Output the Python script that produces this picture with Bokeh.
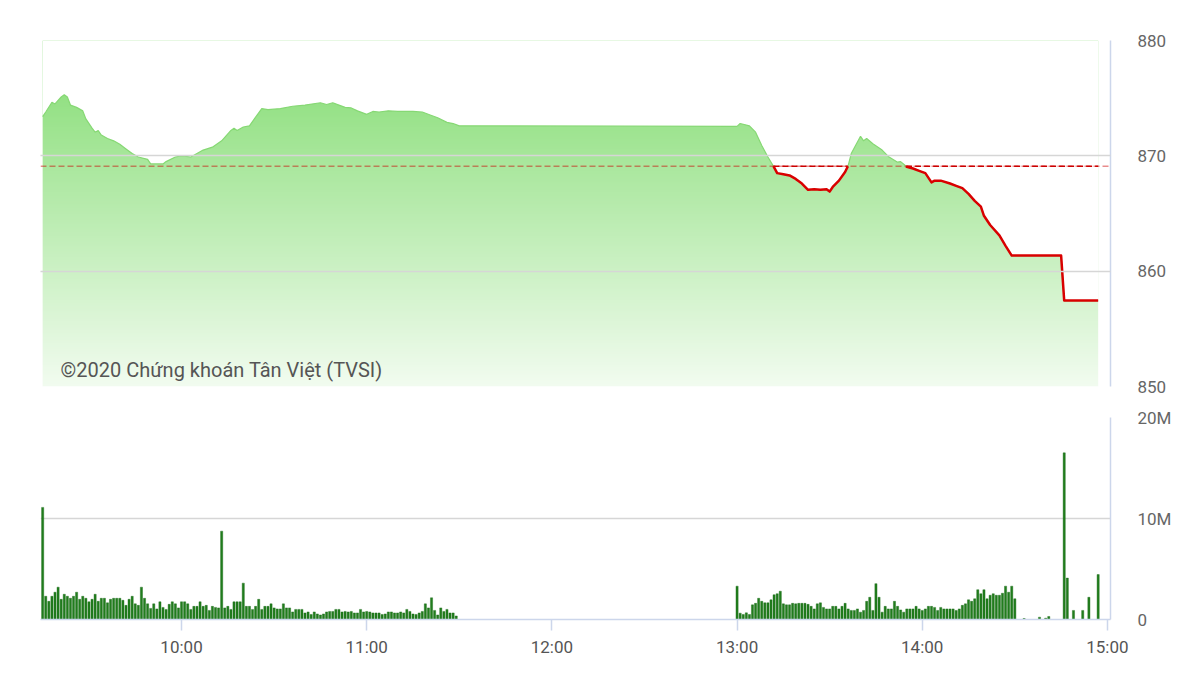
import numpy as np
from bokeh.plotting import figure
from bokeh.layouts import column
from bokeh.models import Range1d, FixedTicker
from bokeh.core.properties import value
from bokeh.embed import file_html
from bokeh.resources import INLINE

# ---------------- data ----------------
price_time = ["09:15", "09:16", "09:18", "09:19", "09:21", "09:22", "09:23", "09:24", "09:26", "09:28",
              "09:29", "09:31", "09:32", "09:33", "09:34", "09:36", "09:38", "09:40", "09:42", "09:44",
              "09:46", "09:49", "09:50", "09:54", "09:55", "09:58", "10:00", "10:03", "10:05", "10:07",
              "10:10", "10:13", "10:16", "10:17", "10:18", "10:20", "10:22", "10:24", "10:26", "10:28",
              "10:32", "10:36", "10:40", "10:45", "10:47", "10:49", "10:51", "10:53", "10:55", "10:57",
              "11:00", "11:02", "11:04", "11:07", "11:10", "11:15", "11:18", "11:21", "11:23", "11:26",
              "11:28", "11:30", "13:00", "13:01", "13:04", "13:06", "13:08", "13:10", "13:12", "13:13",
              "13:15", "13:17", "13:19", "13:21", "13:23", "13:25", "13:27", "13:29", "13:30", "13:31",
              "13:33", "13:35", "13:36", "13:37", "13:40", "13:41", "13:42", "13:44", "13:47", "13:49",
              "13:52", "13:53", "13:55", "13:57", "13:59", "14:01", "14:03", "14:04", "14:06", "14:09",
              "14:11", "14:13", "14:15", "14:17", "14:19", "14:20", "14:22", "14:25", "14:27", "14:29",
              "14:45", "14:46", "14:57"]
price_value = [873.4, 873.8, 874.65, 874.5, 875.1, 875.3, 875.1, 874.4, 874.2, 873.9,
               873.2, 872.4, 872.05, 872.2, 871.8, 871.5, 871.3, 871.0, 870.6, 870.2,
               869.9, 869.7, 869.3, 869.3, 869.5, 869.9, 870.0, 869.9, 870.2, 870.5,
               870.75, 871.3, 872.2, 872.4, 872.2, 872.5, 872.6, 873.35, 874.1, 874.0,
               874.1, 874.3, 874.4, 874.6, 874.45, 874.6, 874.4, 874.2, 874.15, 873.9,
               873.6, 873.85, 873.8, 873.9, 873.85, 873.85, 873.8, 873.5, 873.3, 872.9,
               872.8, 872.6, 872.55, 872.8, 872.6, 872.05, 870.9, 869.9, 869.0, 868.5,
               868.4, 868.3, 868.0, 867.6, 867.05, 867.1, 867.05, 867.1, 866.9, 867.3,
               867.85, 868.6, 869.15, 870.2, 871.7, 871.3, 871.5, 871.05, 870.5, 869.95,
               869.45, 869.5, 869.05, 868.9, 868.7, 868.5, 867.7, 867.85, 867.85, 867.6,
               867.4, 867.2, 866.7, 866.1, 865.6, 864.8, 864.0, 863.1, 862.2, 861.35,
               861.35, 857.45, 857.45]
ref_price = 869.1

# volume in millions, one bar per minute
vol_am_start = "09:15"
vol_am = [11.1, 2.3, 1.8, 2.3, 2.7, 3.2, 2.0, 2.5, 2.3, 2.1, 2.3, 2.7, 2.0, 2.3, 2.1, 1.75, 2.0, 2.5, 1.8, 2.1,
          2.1, 1.65, 2.0, 2.1, 2.1, 2.1, 1.9, 1.4, 2.0, 2.3, 1.55, 1.4, 3.2, 2.1, 1.55, 1.1, 1.55, 1.05, 1.75, 1.2,
          1.0, 1.5, 1.75, 1.55, 1.15, 1.75, 1.75, 1.55, 1.0, 1.3, 1.3, 1.75, 1.3, 1.4, 0.9, 1.3, 1.2, 1.15, 8.75, 1.15,
          1.3, 1.0, 1.75, 1.75, 1.75, 3.6, 1.3, 1.3, 1.0, 1.3, 2.0, 1.0, 1.3, 1.3, 1.55, 1.15, 1.05, 1.05, 1.55, 1.15,
          1.15, 0.75, 1.0, 1.0, 1.0, 0.65, 0.75, 0.5, 0.75, 0.55, 0.45, 0.55, 0.75, 0.8, 0.8, 1.0, 1.0, 0.75, 0.8, 0.75,
          0.8, 0.65, 0.65, 1.0, 0.75, 0.8, 0.75, 0.65, 0.65, 0.65, 0.5, 0.55, 0.75, 0.75, 0.65, 0.65, 0.75, 0.65, 1.0, 0.8,
          0.55, 0.5, 0.65, 0.8, 1.55, 1.15, 2.15, 0.9, 0.45, 1.15, 0.8, 1.0, 0.65, 0.65, 0.35]
vol_pm_start = "13:00"
vol_pm = [3.3, 0.63, 0.5, 0.66, 0.5, 1.45, 1.6, 2.1, 1.8, 1.65, 1.65, 1.95, 2.45, 2.55, 2.8, 1.55, 1.45, 1.45, 1.6, 1.55,
          1.6, 1.6, 1.6, 1.5, 1.3, 1.05, 1.55, 1.65, 1.2, 1.05, 1.05, 1.3, 1.3, 1.05, 1.3, 1.6, 1.05, 0.9, 0.9, 1.05,
          0.73, 0.9, 1.8, 2.2, 0.9, 3.55, 2.2, 0.73, 1.3, 1.05, 1.05, 1.8, 1.3, 0.95, 0.73, 1.05, 1.05, 1.05, 1.3, 1.05,
          0.9, 1.05, 1.3, 1.3, 1.2, 0.9, 1.2, 1.05, 1.05, 1.05, 1.05, 0.9, 1.05, 1.4, 1.55, 1.95, 1.8, 2.05, 2.95, 2.55,
          2.95, 2.05, 2.4, 2.55, 2.4, 2.4, 2.6, 3.3, 2.7, 3.3, 2.05]
vol_late_time = ["14:33", "14:38", "14:40", "14:41", "14:46", "14:47", "14:49", "14:52", "14:54", "14:57"]
vol_late = [0.1, 0.23, 0.13, 0.3, 16.5, 4.1, 0.9, 0.9, 2.2, 4.45]

x_ticks = [10, 11, 12, 13, 14, 15]
x_tick_labels = ["10:00", "11:00", "12:00", "13:00", "14:00", "15:00"]
price_ticks = [850, 860, 870, 880]
vol_ticks = [0, 10_000_000, 20_000_000]
vol_tick_labels = ["0", "10M", "20M"]
watermark = "©2020 Chứng khoán Tân Việt (TVSI)"


def hours(s):
    h, m = s.split(":")
    return int(h) + int(m) / 60.0


t = np.array([hours(s) for s in price_time])
pv = np.array(price_value)

vol_t = ([hours(vol_am_start) + i / 60.0 for i in range(len(vol_am))]
         + [hours(vol_pm_start) + i / 60.0 for i in range(len(vol_pm))]
         + [hours(s) for s in vol_late_time])
vol_v = [v * 1e6 for v in vol_am + vol_pm + vol_late]

# red segment (price below reference), with crossing points
rx, ry = [], []
for i in range(len(t)):
    if i > 0 and (pv[i - 1] - ref_price) * (pv[i] - ref_price) < 0:
        f = (ref_price - pv[i - 1]) / (pv[i] - pv[i - 1])
        rx.append(t[i - 1] + f * (t[i] - t[i - 1]))
        ry.append(ref_price)
        if pv[i] > ref_price:
            rx.append(np.nan)
            ry.append(np.nan)
    if pv[i] <= ref_price:
        rx.append(t[i])
        ry.append(pv[i])
rx = np.array(rx)
ry = np.array(ry)
dash_y = np.where(np.isnan(ry), np.nan, ref_price)

X0, X1 = 9 + 14.3 / 60, 15 + 1 / 60
FONT = "Roboto"
AXIS_COL = "#ccd6eb"
GRID_COL = "#d6d6d6"

# ---------------- price panel ----------------
p = figure(frame_width=1070, frame_height=346, min_border_left=40, min_border_right=82,
           min_border_top=40, min_border_bottom=15, x_range=Range1d(X0, X1),
           y_range=Range1d(850, 880), x_axis_location=None, y_axis_location="right",
           output_backend="svg", toolbar_location=None, background_fill_color="white",
           border_fill_color="white", outline_line_color=None)

# gradient fill: image below, white mask above the price line
N = 300
frac = np.linspace(0, 1, N)[:, None]
top_c = np.array([130, 220, 112])
bot_c = np.array([242, 252, 240])
cols = bot_c + (top_c - bot_c) * frac
img = np.zeros((N, 8), dtype=np.uint32)
view = img.view(dtype=np.uint8).reshape((N, 8, 4))
view[:, :, 0] = cols[:, 0:1]
view[:, :, 1] = cols[:, 1:2]
view[:, :, 2] = cols[:, 2:3]
view[:, :, 3] = 255
p.image_rgba(image=[img], x=t[0], y=850, dw=t[-1] - t[0], dh=30)
p.varea(x=t, y1=pv, y2=880, fill_color="white")

p.line(t, pv, line_color="#86d874", line_width=1.2)
p.line([X0, X1], [ref_price, ref_price], line_color="#cc0000", line_width=1.5,
       line_dash="6 3", line_alpha=0.45)
p.line(rx, dash_y, line_color="#cc0000", line_width=1.5, line_dash="6 3")
p.line(rx, ry, line_color="#d90000", line_width=2.5, line_join="round")

p.text(x=[9 + 20.8 / 60], y=[851.4], text=[watermark], text_font=value(FONT),
       text_font_size="20px", text_color="#555555", text_baseline="middle", text_align="left")

p.xgrid.visible = False
p.ygrid.ticker = FixedTicker(ticks=price_ticks)
p.ygrid.grid_line_color = GRID_COL
p.ygrid.grid_line_width = 1.5
p.ygrid.level = "guide"
ya = p.yaxis[0]
ya.ticker = FixedTicker(ticks=price_ticks)
ya.axis_line_color = AXIS_COL
ya.axis_line_width = 1.5
ya.major_tick_line_color = None
ya.minor_tick_line_color = None
ya.major_tick_out = 0
ya.major_tick_in = 0
ya.major_label_standoff = 27
ya.major_label_text_font = FONT
ya.major_label_text_font_size = "17px"
ya.major_label_text_color = "#666666"

# ---------------- volume panel ----------------
q = figure(frame_width=1070, frame_height=202, min_border_left=40, min_border_right=82,
           min_border_top=16, min_border_bottom=45, x_range=p.x_range,
           y_range=Range1d(0, 20_000_000), y_axis_location="right",
           output_backend="svg", toolbar_location=None, background_fill_color="white",
           border_fill_color="white", outline_line_color=None)
q.vbar(x=vol_t, top=vol_v, bottom=0, width=0.7 / 60, fill_color="#217d1d",
       line_color="#1a6b17", line_width=0.4)

q.xgrid.visible = False
q.ygrid.ticker = FixedTicker(ticks=vol_ticks)
q.ygrid.grid_line_color = GRID_COL
q.ygrid.grid_line_width = 1.5
yb = q.yaxis[0]
yb.ticker = FixedTicker(ticks=vol_ticks)
yb.major_label_overrides = dict(zip(vol_ticks, vol_tick_labels))
yb.axis_line_color = AXIS_COL
yb.axis_line_width = 1.5
yb.major_tick_line_color = None
yb.minor_tick_line_color = None
yb.major_tick_out = 0
yb.major_tick_in = 0
yb.major_label_standoff = 27
yb.major_label_text_font = FONT
yb.major_label_text_font_size = "17px"
yb.major_label_text_color = "#666666"

xb = q.xaxis[0]
xb.ticker = FixedTicker(ticks=x_ticks)
xb.major_label_overrides = dict(zip(x_ticks, x_tick_labels))
xb.axis_line_color = AXIS_COL
xb.axis_line_width = 1.5
xb.major_tick_line_color = AXIS_COL
xb.major_tick_line_width = 1.5
xb.minor_tick_line_color = None
xb.major_tick_out = 11
xb.major_tick_in = 0
xb.major_label_standoff = 6
xb.major_label_text_font = FONT
xb.major_label_text_font_size = "17px"
xb.major_label_text_color = "#555555"

layout = column(p, q, spacing=0)
open("out.html", "w").write(file_html(layout, INLINE))
